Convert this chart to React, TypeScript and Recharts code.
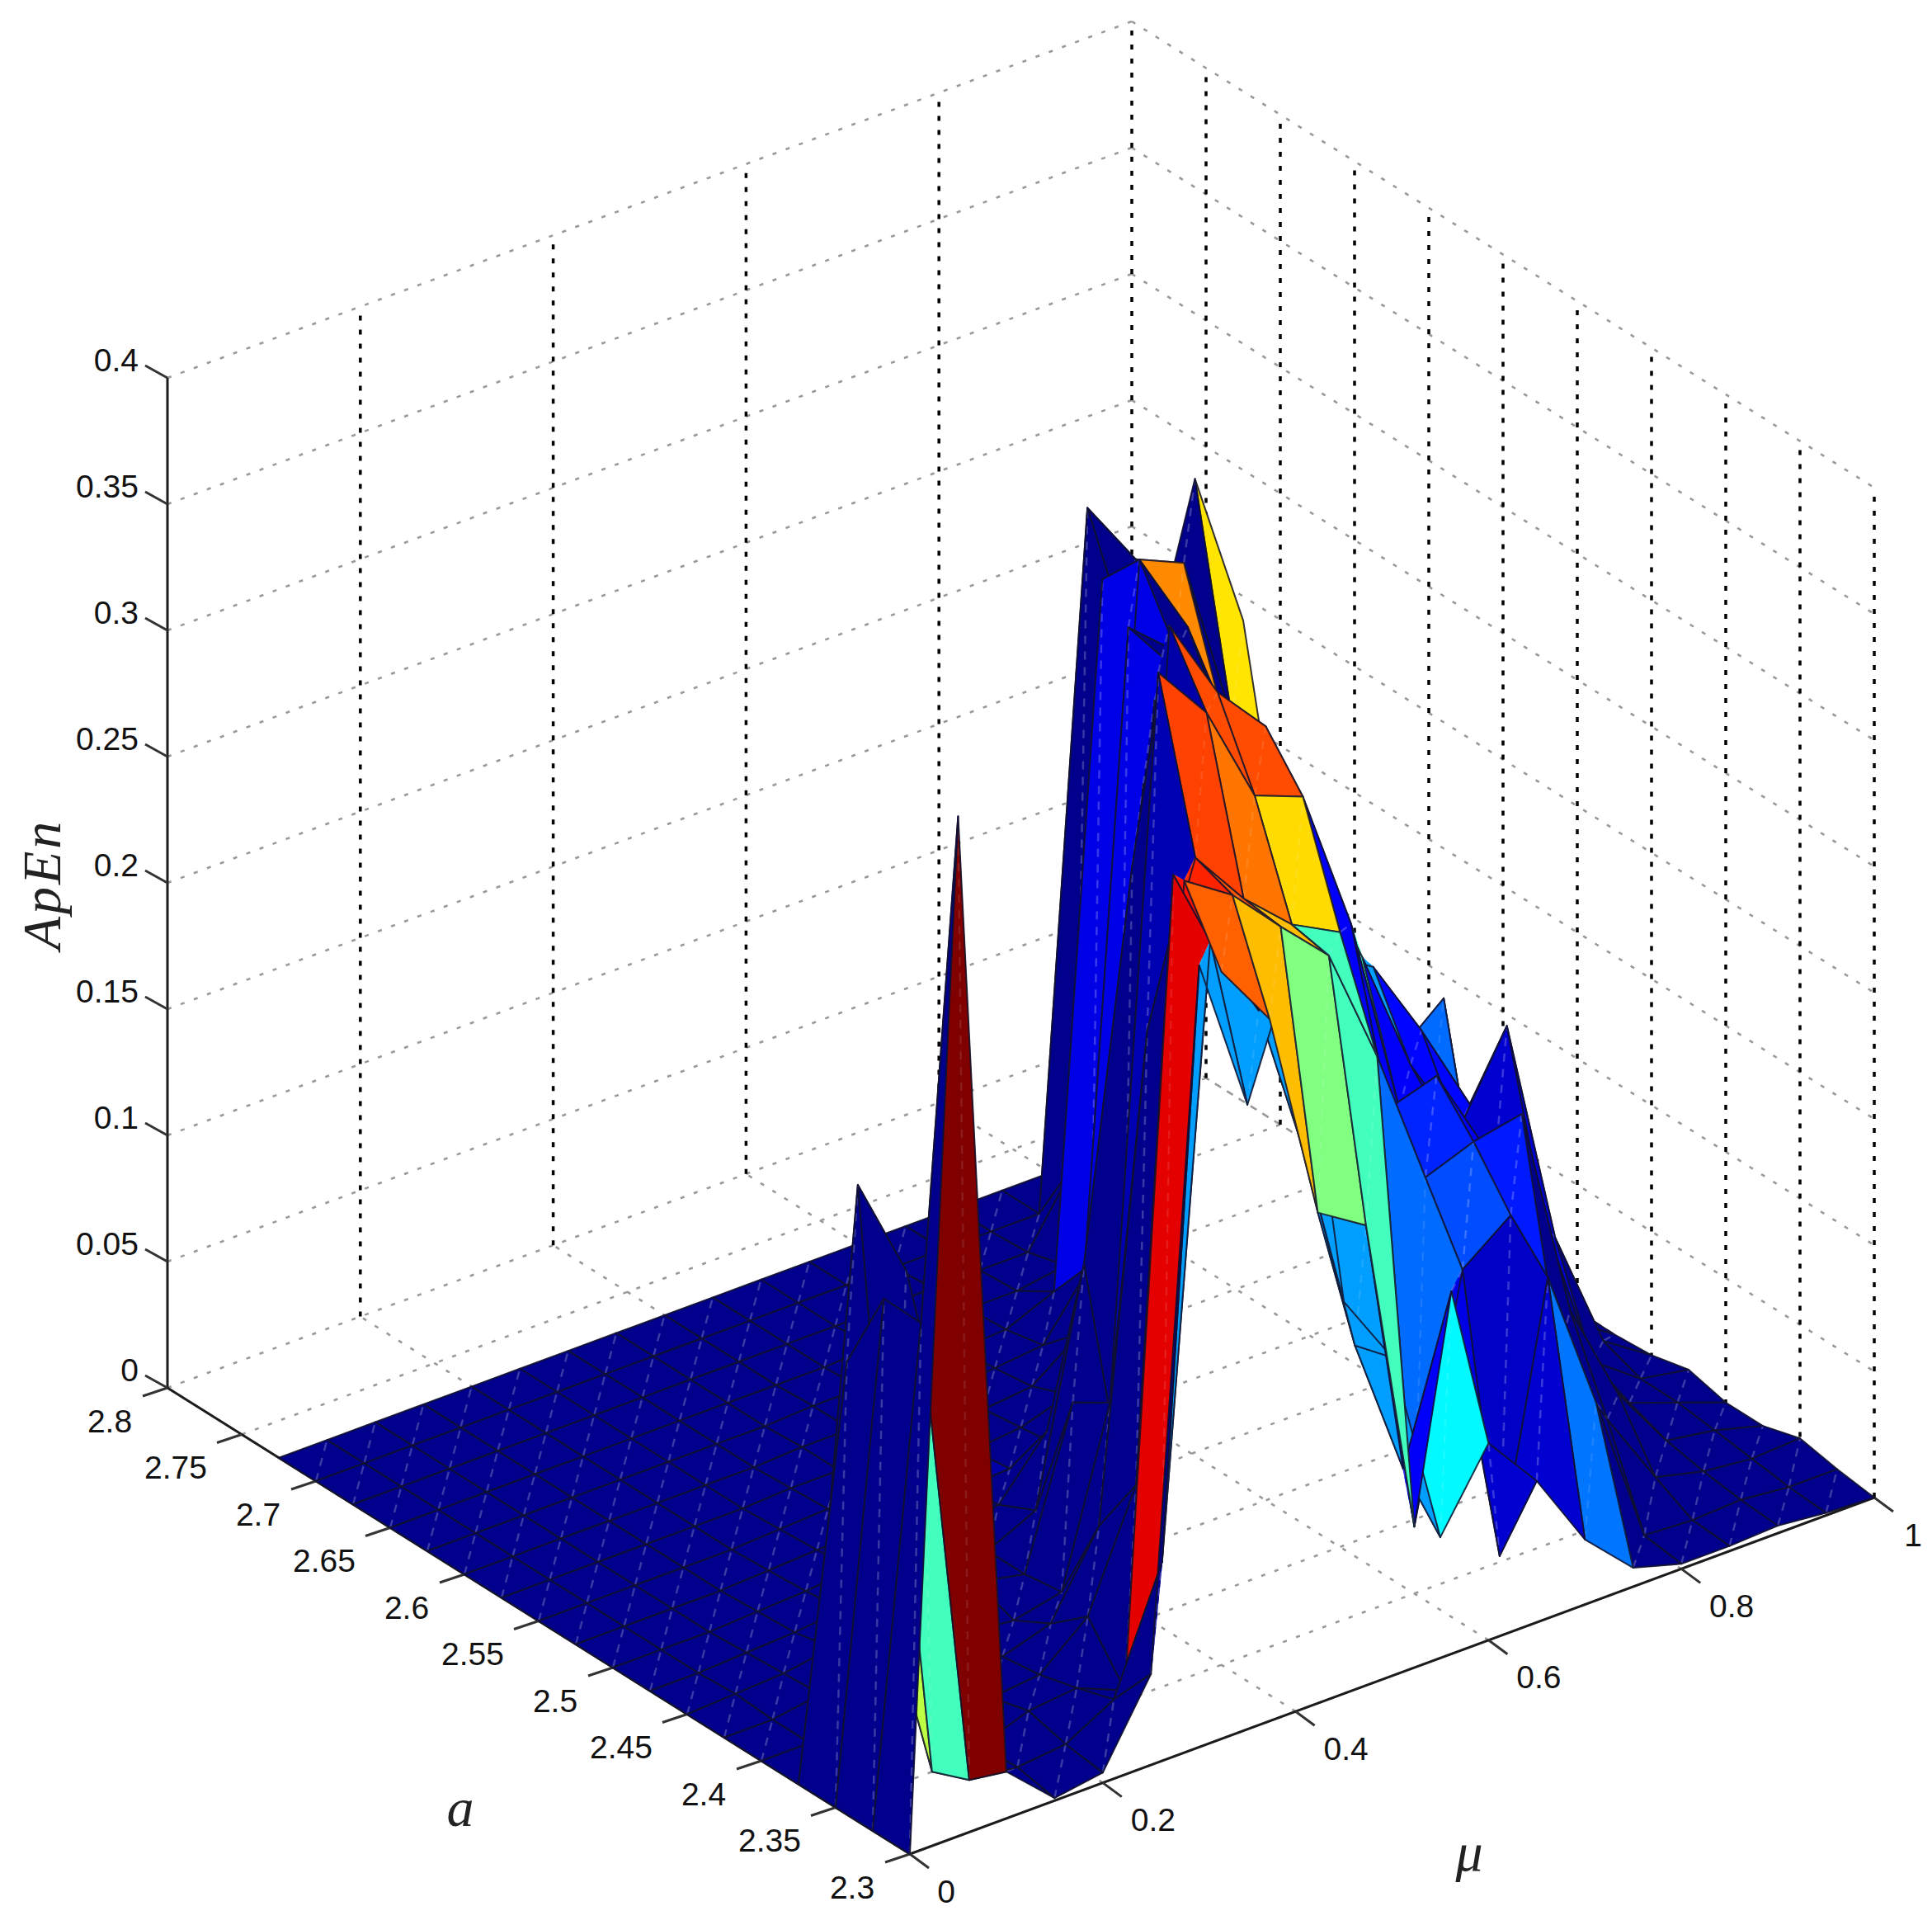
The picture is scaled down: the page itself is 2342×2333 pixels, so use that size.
import { ScatterChart, Scatter, XAxis, YAxis } from "recharts";

const muValues = [0, 0.05, 0.1, 0.15, 0.2, 0.25, 0.3, 0.35, 0.4, 0.45, 0.5, 0.55, 0.6, 0.65, 0.7, 0.75, 0.8, 0.85, 0.9, 0.95, 1];
const aValues = [2.3, 2.325, 2.35, 2.375, 2.4, 2.425, 2.45, 2.475, 2.5, 2.525, 2.55, 2.575, 2.6, 2.625, 2.65, 2.675, 2.7, 2.725];

// ApEn, one row per a value, one column per mu value
const apEnRows = [
  [0, 0.404, 0.0185, 0.001, 0.004, 0.036, 0.3096, 0.2473, 0.302, 0.1552, 0.1261, 0.0478, 0.078, 0.056, 0.0257, 0.0075, 0.002, 0.002, 0.003, 0.001, 0],
  [0, 0.194, 0.006, 0.004, 0.006, 0.0167, 0.0641, 0.3029, 0.2683, 0.202, 0.1216, 0.0657, 0.1289, 0.017, 0.1203, 0.0637, 0.004, 0.003, 0.004, 0.002, 0.002],
  [0, 0.1944, 0, 0.003, 0.01, 0.012, 0.004, 0.32, 0.2745, 0.2487, 0.165, 0.1529, 0.0265, 0.1212, 0.1357, 0.0739, 0.0408, 0.0108, 0.006, 0.004, 0.005],
  [0, 0.16, 0.044, 0.123, 0.006, 0.008, 0.024, 0.069, 0.3013, 0.2886, 0.269, 0.2505, 0.2036, 0.1485, 0.1556, 0.1595, 0.0747, 0.0343, 0.009, 0.006, 0.0007],
  [0, 0, 0.214, 0.173, 0.02, 0.006, 0.012, 0.0435, 0.2324, 0.2941, 0.2709, 0.2536, 0.2435, 0.1664, 0.1724, 0.137, 0.1007, 0.0382, 0.0147, 0.0078, 0.0007],
  [0, 0, 0.003, 0.01, 0.02, 0.006, 0.004, 0.0082, 0.0761, 0.3582, 0.3353, 0.2954, 0.2879, 0.2304, 0.15, 0.1346, 0.1176, 0.0846, 0.0219, 0.008, 0.0045],
  [0, 0.001, 0.002, 0.005, 0.006, 0.012, 0.01, 0.006, 0.067, 0.03, 0.3605, 0.3271, 0.3065, 0.2474, 0.201, 0.1513, 0.1183, 0.1526, 0.0618, 0.0137, 0.001],
  [0, 0, 0.001, 0.002, 0.004, 0.005, 0.008, 0.006, 0.015, 0.1056, 0.2559, 0.2588, 0.2582, 0.2346, 0.1935, 0.1808, 0.1486, 0.1124, 0.085, 0.0127, 0],
  [0, 0, 0, 0.001, 0.002, 0.004, 0.006, 0.004, 0.008, 0.03, 0.05, 0.2722, 0.2654, 0.2549, 0.2186, 0.1771, 0.1454, 0.1026, 0.0497, 0.0033, 0.0003],
  [0, 0, 0, 0, 0.001, 0.002, 0.003, 0.004, 0.005, 0.006, 0.008, 0.02, 0.2889, 0.2725, 0.2484, 0.1925, 0.1526, 0.1127, 0.1288, 0.0072, 0.001],
  [0, 0, 0, 0, 0, 0.001, 0.002, 0.002, 0.003, 0.004, 0.006, 0.012, 0.02, 0.2889, 0.2627, 0.2255, 0.1761, 0.1232, 0.0804, 0.0176, 0.002],
  [0, 0, 0, 0, 0, 0, 0.001, 0.001, 0.002, 0.003, 0.004, 0.006, 0.02, 0.2925, 0.2758, 0.2392, 0.1931, 0.1533, 0.0971, 0.0575, 0.0078],
  [0, 0, 0, 0, 0, 0, 0, 0.001, 0.001, 0.002, 0.002, 0.004, 0.006, 0.031, 0.303, 0.2693, 0.2167, 0.1605, 0.1046, 0.0647, 0.0249],
  [0, 0, 0, 0, 0, 0, 0, 0, 0.001, 0.001, 0.001, 0.002, 0.003, 0.011, 0.286, 0.2536, 0.2235, 0.2003, 0.1441, 0.0882, 0.0484],
  [0, 0, 0, 0, 0, 0, 0, 0, 0, 0, 0.001, 0.001, 0.002, 0.002, 0.005, 0.264, 0.2307, 0.19, 0.1676, 0.1115, 0.0556],
  [0, 0, 0, 0, 0, 0, 0, 0, 0, 0, 0, 0, 0.001, 0.001, 0.001, 0.03, 0.2343, 0.2144, 0.1882, 0.17, 0.1147],
  [0, 0, 0, 0, 0, 0, 0, 0, 0, 0, 0, 0, 0, 0, 0, 0, 0.2725, 0.2451, 0.2366, 0.1676, 0.1056],
  [0, 0, 0, 0, 0, 0, 0, 0, 0, 0, 0, 0, 0, 0, 0, 0, 0, 0.2278, 0.1824, 0.2536, 0.1905],
];

// colour level of the facets that are not the default dark blue: [mu index, a index, level]
const facetLevels = [
  [1, 0, 1], [1, 1, 0.44], [1, 2, 0.56],
  [6, 0, 0.28], [6, 1, 0.9], [7, 2, 0.86],
  [7, 0, 0.28], [8, 0, 0.28], [9, 0, 0.28], [7, 1, 0.28], [8, 1, 0.28], [9, 1, 0.28], [10, 1, 0.28], [10, 0, 0.28],
  [8, 2, 0.78], [9, 2, 0.69], [10, 2, 0.5], [11, 2, 0.44], [11, 3, 0.44],
  [8, 3, 0.84], [9, 3, 0.79], [10, 3, 0.69], [9, 4, 0.81], [10, 4, 0.76], [11, 4, 0.66], [10, 5, 0.8], [11, 5, 0.8],
  [9, 5, 0.04], [8, 4, 0.05], [12, 5, 0.44], [12, 6, 0.44], [13, 5, 0.44],
  [12, 4, 0.12], [12, 3, 0.28], [12, 2, 0.23], [13, 3, 0.16], [13, 2, 0.2], [13, 1, 0.07], [12, 1, 0.1], [12, 0, 0.08], [11, 0, 0.37], [11, 1, 0.12],
  [13, 0, 0.08], [14, 0, 0.24], [14, 2, 0.15], [14, 3, 0.12], [13, 4, 0.12], [14, 4, 0.12], [14, 5, 0.12], [15, 4, 0.12], [15, 5, 0.12],
  [14, 6, 0.28], [14, 7, 0.28], [15, 6, 0.13], [15, 7, 0.13], [16, 6, 0.13], [16, 5, 0.08], [17, 5, 0.08], [17, 6, 0.08],
  [17, 8, 0.23], [18, 8, 0.23], [17, 9, 0.23], [18, 9, 0.23],
  [19, 15, 0.44], [19, 14, 0.44], [18, 14, 0.44], [18, 13, 0.44], [19, 13, 0.44], [19, 16, 0.65], [17, 15, 0.74], [17, 16, 0.74],
  [13, 12, 0.1], [13, 11, 0.1], [12, 10, 0.1],
  [9, 11, 0.03], [8, 9, 0.04], [5, 6, 0.04], [3, 4, 0.05],
];

// these sit in front of their neighbours in the picture
const frontFacets = [[11, 1], [8, 2], [9, 2], [10, 2], [11, 2], [11, 3]];

const zTicks = [0, 0.05, 0.1, 0.15, 0.2, 0.25, 0.3, 0.35, 0.4];
const zTickLabels = ["0", "0.05", "0.1", "0.15", "0.2", "0.25", "0.3", "0.35", "0.4"];
const muTicks = [0, 0.2, 0.4, 0.6, 0.8, 1];
const muTickLabels = ["0", "0.2", "0.4", "0.6", "0.8", "1"];
const aTicks = [2.3, 2.35, 2.4, 2.45, 2.5, 2.55, 2.6, 2.65, 2.7, 2.75, 2.8];
const aTickLabels = ["2.3", "2.35", "2.4", "2.45", "2.5", "2.55", "2.6", "2.65", "2.7", "2.75", "2.8"];

const project = (mu: number, a: number, z: number) => ({
  x: 1103 + 1169 * mu - 1800 * (a - 2.3),
  y: 2247 - 432 * mu - 1130 * (a - 2.3) - 3060 * z,
});

const jet = (c: number) => {
  const ch = (v: number) => Math.round(255 * Math.max(0, Math.min(1, 1.5 - Math.abs(4 * c - v))));
  return `rgb(${ch(3)},${ch(2)},${ch(1)})`;
};

const levelOf = (i: number, j: number) => {
  const hit = facetLevels.find((f) => f[0] === i && f[1] === j);
  return hit ? hit[2] : 0.012;
};

const cells: { i: number; j: number; depth: number }[] = [];
for (let j = 0; j < aValues.length - 1; j++) {
  for (let i = 0; i < muValues.length - 1; i++) {
    const front = frontFacets.some((f) => f[0] === i && f[1] === j);
    cells.push({ i, j, depth: front ? -1 : 21.6 * i + 28.25 * j });
  }
}
cells.sort((p, q) => q.depth - p.depth);

const vertex = (i: number, j: number) => project(muValues[i], aValues[j], apEnRows[j][i]);
const surfaceData = cells.flatMap(({ i, j }) => [vertex(i, j), vertex(i + 1, j), vertex(i + 1, j + 1), vertex(i, j + 1)]);

const segment = (a: number[], b: number[]) => [project(a[0], a[1], a[2]), project(b[0], b[1], b[2])];

const verticalData = [
  ...muTicks.slice(1).flatMap((m) => segment([m, 2.8, 0], [m, 2.8, 0.4])),
  ...aTicks.slice(0, -1).flatMap((a) => segment([1, a, 0], [1, a, 0.4])),
];
const wallData = [
  ...zTicks.flatMap((z) => [...segment([0, 2.8, z], [1, 2.8, z]), ...segment([1, 2.8, z], [1, 2.3, z])]),
  ...muTicks.flatMap((m) => segment([m, 2.3, 0], [m, 2.8, 0])),
  ...aTicks.flatMap((a) => segment([0, a, 0], [1, a, 0])),
];
const axisData = [
  ...segment([0, 2.8, 0], [0, 2.8, 0.4]),
  ...segment([0, 2.3, 0], [1, 2.3, 0]),
  ...segment([0, 2.3, 0], [0, 2.8, 0]),
];

const offset = (p: { x: number; y: number }, dx: number, dy: number) => ({ x: p.x + dx, y: p.y + dy });
const tickData = [
  ...zTicks.flatMap((z) => { const p = project(0, 2.8, z); return [p, offset(p, -27, -15)]; }),
  ...muTicks.flatMap((m) => { const p = project(m, 2.3, 0); return [p, offset(p, 23, 17)]; }),
  ...aTicks.flatMap((a) => { const p = project(0, a, 0); return [p, offset(p, -30, 10)]; }),
];

const labelData = [
  ...zTicks.map((z, k) => ({ ...offset(project(0, 2.8, z), -35, -22), label: zTickLabels[k], anchor: "end" })),
  ...muTicks.map((m, k) => ({ ...offset(project(m, 2.3, 0), k === 0 ? 44 : k === 5 ? 47 : 61, 45), label: muTickLabels[k], anchor: "middle" })),
  ...aTicks.map((a, k) => ({ ...offset(project(0, a, 0), aTickLabels[k].length > 3 ? -80 : -70, 40), label: aTickLabels[k], anchor: "middle" })),
];

const titleData = [
  { x: 50, y: 1072, label: "ApEn", rotate: -90 },
  { x: 558, y: 2190, label: "a", rotate: 0 },
  { x: 1781, y: 2244, label: "μ", rotate: 0 },
];

const noDot = () => <g />;

const pairs = (points: { x: number; y: number }[]) => {
  let d = "";
  for (let k = 0; k + 1 < points.length; k += 2) {
    d += `M${points[k].x},${points[k].y}L${points[k + 1].x},${points[k + 1].y}`;
  }
  return d;
};

const drawSegments = (stroke: string, width: number, dash?: string) => (props: any) => (
  <path d={pairs(props.points)} stroke={stroke} strokeWidth={width} strokeDasharray={dash} fill="none" />
);

const drawSurface = (props: any) => {
  const pts = props.points;
  return (
    <g>
      {cells.map(({ i, j }, k) => {
        const [a, b, c, d] = pts.slice(k * 4, k * 4 + 4);
        const level = levelOf(i, j);
        const fill = jet(level);
        const bright = level > 0.2;
        return (
          <g key={k}>
            <path d={`M${a.x},${a.y}L${b.x},${b.y}L${c.x},${c.y}Z`} fill={fill} stroke={fill} strokeWidth={0.8} />
            <path d={`M${a.x},${a.y}L${c.x},${c.y}L${d.x},${d.y}Z`} fill={fill} stroke={fill} strokeWidth={0.8} />
            <path d={`M${a.x},${a.y}L${c.x},${c.y}`} stroke="#ffffff" strokeOpacity={bright ? 0.1 : 0.22} strokeWidth={2.5} strokeDasharray="10 9" fill="none" />
            <path d={`M${a.x},${a.y}L${b.x},${b.y}L${c.x},${c.y}L${d.x},${d.y}Z`} fill="none" stroke="#12122a" strokeOpacity={0.85} strokeWidth={2} strokeLinejoin="round" />
          </g>
        );
      })}
    </g>
  );
};

const tickLabel = (props: any) => (
  <text x={props.cx} y={props.cy} textAnchor={props.payload.anchor} dominantBaseline="central" fontFamily="'Liberation Sans', Arial, sans-serif" fontSize={39} fill="#111">
    {props.payload.label}
  </text>
);

const titleLabel = (props: any) => (
  <text
    x={props.cx}
    y={props.cy}
    textAnchor="middle"
    dominantBaseline="central"
    fontFamily="'Liberation Serif', serif"
    fontStyle="italic"
    fontSize={66}
    letterSpacing={props.payload.label.length > 1 ? 3 : 0}
    fill="#222"
    transform={props.payload.rotate ? `rotate(${props.payload.rotate} ${props.cx} ${props.cy})` : undefined}
  >
    {props.payload.label}
  </text>
);

export default function App() {
  return (
    <div style={{ position: "absolute", left: 0, top: 0, width: 2342, height: 2333, background: "#fff" }}>
      <ScatterChart width={2342} height={2333} margin={{ top: 0, right: 0, bottom: 0, left: 0 }}>
        <XAxis type="number" dataKey="x" domain={[0, 2342]} hide />
        <YAxis type="number" dataKey="y" domain={[0, 2333]} reversed hide />
        <Scatter data={wallData} line={drawSegments("#999999", 2.6, "5 12")} shape={noDot} isAnimationActive={false} />
        <Scatter data={verticalData} line={drawSegments("#000", 3.5, "6 11")} shape={noDot} isAnimationActive={false} />
        <Scatter data={axisData} line={drawSegments("#1c1c1c", 3)} shape={noDot} isAnimationActive={false} />
        <Scatter data={tickData} line={drawSegments("#333", 3)} shape={noDot} isAnimationActive={false} />
        <Scatter data={surfaceData} line={drawSurface} shape={noDot} isAnimationActive={false} />
        <Scatter data={labelData} shape={tickLabel} isAnimationActive={false} />
        <Scatter data={titleData} shape={titleLabel} isAnimationActive={false} />
      </ScatterChart>
    </div>
  );
}
